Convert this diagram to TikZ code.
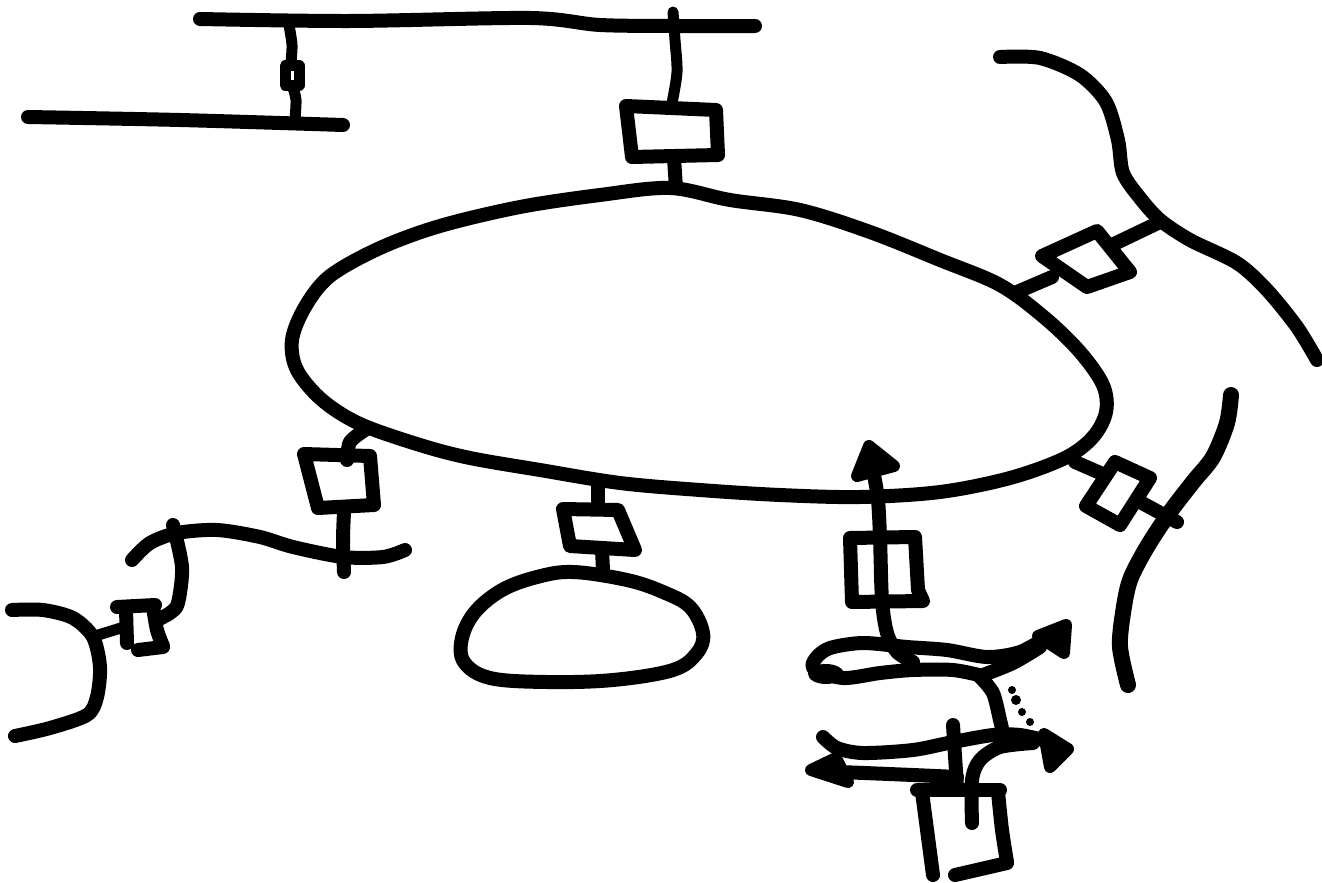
\documentclass[tikz,border=0pt]{standalone}
\begin{document}
\begin{tikzpicture}[x=1pt,y=-1pt,
  pen/.style={line width=14pt,line cap=round,line join=round},
  fine/.style={line width=11pt,line cap=round,line join=round},
  head/.style={fill=black,draw=black,line width=12pt,line join=round}]
\useasboundingbox (0,0) rectangle (1322,883);
% ---------- top left ----------
\draw[pen] plot[smooth] coordinates {(200,19) (350,21) (530,18) (600,25) (680,26) (755,26)};
\draw[pen] plot[smooth] coordinates {(28,117) (180,120) (343,125)};
\draw[fine] plot[smooth] coordinates {(289,25) (292,45) (291,62)};
\draw[fine] plot[smooth] coordinates {(293,88) (296,100) (295,120)};
\draw[fine] (285,66) rectangle (299,85);
% ---------- top right box ----------
\draw[fine] plot[smooth] coordinates {(673,12) (675,40) (677,72) (672,103)};
\draw[pen] (626,106) -- (716,110) -- (718,155) -- (632,157) -- cycle;
\draw[pen] (674,158) -- (676,188);
% ---------- big ellipse ----------
\draw[pen] plot[smooth cycle,tension=0.55] coordinates {
 (292,340) (305,307) (330,276) (380,248) (440,226) (520,207) (600,195)
 (670,188) (730,200) (800,210) (870,232) (940,260) (1000,285) (1045,318)
 (1080,352) (1103,385) (1106,412) (1093,437) (1065,458) (1010,478) (940,492)
 (860,497) (780,495) (700,490) (620,483) (540,470) (470,458) (420,445)
 (360,424) (322,400) (297,370)};
% ---------- top right curve and diamond ----------
\draw[pen] plot[smooth] coordinates {(1000,57) (1040,58) (1080,75) (1106,102)
 (1118,140) (1123,173) (1140,198) (1160,220) (1190,240) (1237,263) (1267,290)
 (1297,327) (1317,360)};
\draw[pen] (1042,256) -- (1097,231) -- (1130,272) -- (1087,287) -- cycle;
\draw[pen] (1017,292) -- (1052,277);
\draw[pen] (1114,244) -- (1160,222);
% ---------- right lower curve and box ----------
\draw[line width=16pt,line cap=round,line join=round] plot[smooth] coordinates {(1231,395) (1227,423) (1213,457) (1193,482)
 (1170,512) (1147,547) (1130,580) (1123,613) (1120,647) (1128,685)};
\draw[pen] (1115,462) -- (1150,478) -- (1120,525) -- (1086,506) -- cycle;
\draw[pen] (1075,462) -- (1105,475);
\draw[pen] (1142,503) -- (1177,522);
% ---------- left hanging box ----------
\draw[pen] plot[smooth] coordinates {(365,430) (350,442) (347,460)};
\draw[pen] (304,454) -- (370,456) -- (374,505) -- (318,508) -- cycle;
\draw[pen] plot[smooth] coordinates {(344,512) (343,540) (344,572)};
\draw[pen] plot[smooth] coordinates {(132,560) (150,543) (177,533) (217,530) (260,537)
 (293,547) (343,557) (383,557) (405,550)};
\draw[pen] plot[smooth] coordinates {(173,525) (182,567) (178,603) (170,613) (157,620)};
\draw[pen] (117,607) -- (155,605);
\draw[pen] (126,609) -- (127,643);
\draw[pen] plot[smooth] coordinates {(153,607) (157,630) (163,646)};
\draw[pen] (163,647) -- (138,650);
\draw[fine] (95,636) -- (124,627);
\draw[pen] plot[smooth] coordinates {(12,610) (43,610) (73,618) (93,637) (100,667)
 (97,697) (87,715) (50,728) (15,736)};
% ---------- middle box and small ellipse ----------
\draw[pen] (598,482) -- (598,507);
\draw[pen] (563,509) -- (618,510) -- (635,550) -- (570,546) -- cycle;
\draw[pen] (602,550) -- (603,570);
\draw[pen] plot[smooth cycle,tension=0.6] coordinates {(573,572) (627,580) (663,592)
 (690,607) (703,633) (697,653) (673,670) (613,680) (547,682) (490,678) (464,662)
 (462,638) (475,612) (502,590) (537,577)};
% ---------- bottom right: vertical arrow and box ----------
\draw[pen] plot[smooth] coordinates {(874,475) (878,500) (880,537) (882,600) (887,633) (897,652) (913,662)};
\draw[head] (869,446) -- (894,466) -- (857,476) -- cycle;
\draw[pen] (850,538) -- (915,537) -- (918,590) -- (923,601) -- (852,602) -- cycle;
% ---------- upper double strand arrow ----------
\draw[pen] plot[smooth] coordinates {(983,676) (953,670) (913,670) (880,673) (843,678)
 (814,669) (816,658) (830,648) (863,643) (907,647) (947,650) (987,657) (1020,652) (1047,637)};
\draw[pen] plot[smooth] coordinates {(980,677) (993,693) (1000,720) (1003,733)};
\draw[pen] plot[smooth] coordinates {(983,675) (1013,663) (1040,647)};
\draw[head] (1066,625) -- (1038,636) -- (1064,653) -- cycle;
\fill (826,674) ellipse (18pt and 10pt);
% ---------- lower arrows ----------
\draw[pen] plot[smooth] coordinates {(823,737) (837,748) (863,753) (913,750) (953,742)
 (993,735) (1020,735) (1047,741)};
\draw[head] (1068,749) -- (1044,734) -- (1050,767) -- cycle;
\draw[pen] plot[smooth] coordinates {(840,772) (913,775) (957,777)};
\draw[head] (811,770) -- (836,758) -- (848,782) -- cycle;
\draw[pen] plot[smooth] coordinates {(972,823) (972,780) (980,760) (1000,747) (1033,743)};
\draw[pen] (953,725) -- (957,787);
% ---------- bottom box ----------
\draw[pen] (917,790) -- (1000,790);
\draw[pen] (922,792) -- (933,875);
\draw[pen] plot[smooth] coordinates {(998,792) (1002,830) (1007,862)};
\draw[pen] (1007,863) -- (955,875);
% ---------- smudge ----------
\fill (1016,700) circle (5pt);
\fill (1022,712) circle (4pt);
\fill (1030,722) circle (4pt);
\fill (1012,690) circle (4pt);
\end{tikzpicture}
\end{document}
